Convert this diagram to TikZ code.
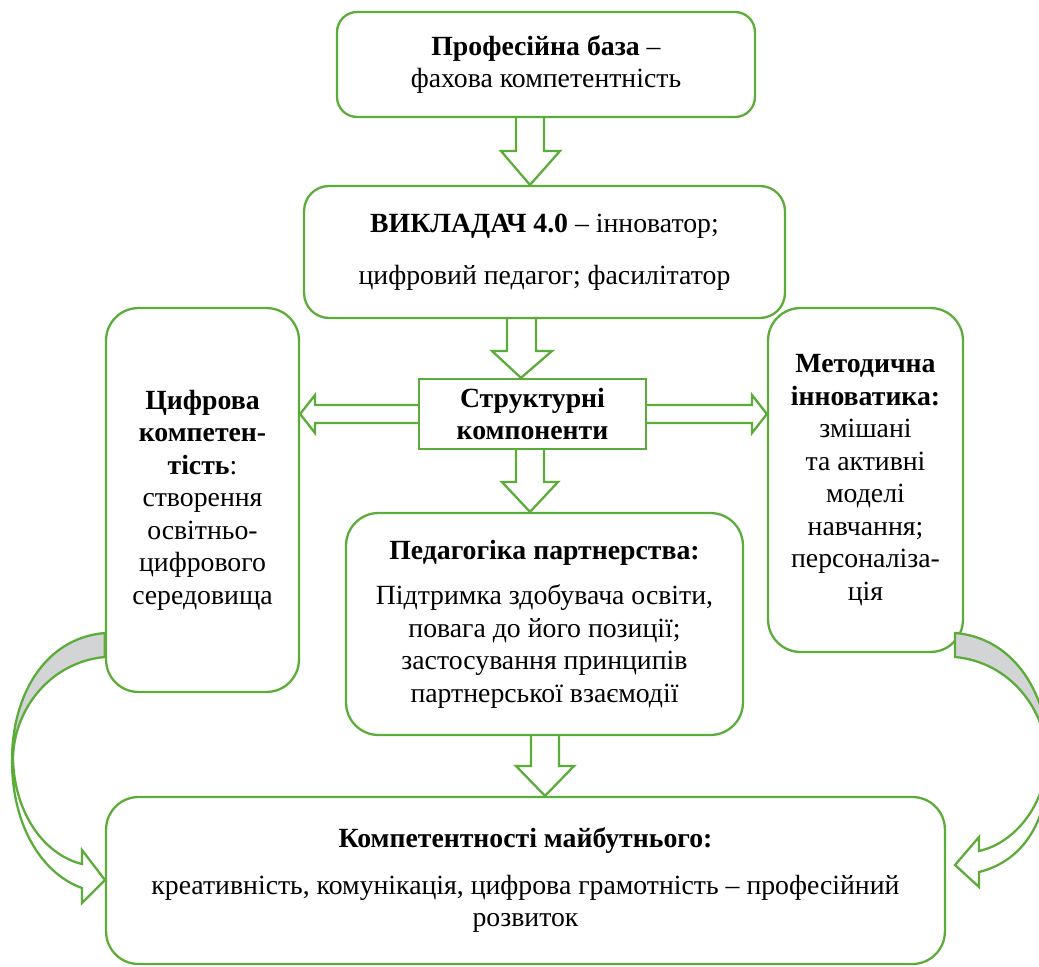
\documentclass[tikz,border=0pt]{standalone}
\usepackage{fontspec}
\setmainfont{Liberation Serif}
\definecolor{leafgreen}{RGB}{92,172,58}
\definecolor{bandgrey}{RGB}{211,212,214}
\begin{document}
\begin{tikzpicture}[x=0.02cm, y=-0.02cm,
    every node/.style={font=\fontsize{15.8}{18.5}\selectfont},
    rbox/.style={draw=leafgreen, line width=1.3pt, rounded corners=0.65cm, align=center, inner sep=0pt},
    sbox/.style={draw=leafgreen, line width=1.3pt, align=center, inner sep=0pt},
    blockarrow/.style={draw=leafgreen, line width=1.3pt, line join=miter},
    band/.style={draw=leafgreen, line width=1.3pt, fill=bandgrey}]
  \useasboundingbox (0,0) rectangle (1039,967);

  % boxes
  \node[rbox, rounded corners=0.4cm, minimum width=8.36cm, minimum height=2.1cm] (prof) at (546,64.5)
    {\textbf{Професійна база} –\\ фахова компетентність};
  \node[rbox, rounded corners=0.5cm, minimum width=9.62cm, minimum height=2.64cm] (teacher) at (544.5,252)
    {\textbf{ВИКЛАДАЧ 4.0} – інноватор;\\[0.4cm] цифровий педагог; фасилітатор};
  \node[sbox, minimum width=4.54cm, minimum height=1.4cm] (struct) at (532.5,414)
    {\textbf{Структурні}\\ \textbf{компоненти}};
  \node[rbox, minimum width=3.86cm, minimum height=7.68cm] (digital) at (202.5,500)
    {\textbf{Цифрова}\\ \textbf{компетен-}\\ \textbf{тість}:\\ створення\\ освітньо-\\ цифрового\\ середовища};
  \node[rbox, minimum width=3.9cm, minimum height=6.88cm] (method) at (865.5,480)
    {\textbf{Методична}\\ \textbf{інноватика:}\\ змішані\\ та активні\\ моделі\\ навчання;\\ персоналіза-\\ ція};
  \node[rbox, minimum width=7.94cm, minimum height=4.44cm] (partner) at (544.5,624)
    {\textbf{Педагогіка партнерства:}\\[0.26cm] Підтримка здобувача освіти,\\ повага до його позиції;\\ застосування принципів\\ партнерської взаємодії};
  \node[rbox, minimum width=16.78cm, minimum height=3.34cm] (future) at (525.5,880.5)
    {\textbf{Компетентності майбутнього:}\\[0.28cm] креативність, комунікація, цифрова грамотність – професійний\\ розвиток};

  % block arrows
  \draw[blockarrow] (516,0 |- prof.south) -- (516,151) -- (501,151) -- (530,0 |- teacher.north)
    -- (560,151) -- (544,151) -- (544,0 |- prof.south);
  \draw[blockarrow] (507,0 |- teacher.south) -- (507,351) -- (492,351) -- (521,0 |- struct.north)
    -- (552,351) -- (536,351) -- (536,0 |- teacher.south);
  \draw[blockarrow] (516,0 |- struct.south) -- (516,482) -- (502,482) -- (530,0 |- partner.north)
    -- (558,482) -- (544,482) -- (544,0 |- struct.south);
  \draw[blockarrow] (531,0 |- partner.south) -- (531,766) -- (516,766) -- (545,0 |- future.north)
    -- (574,766) -- (559,766) -- (559,0 |- partner.south);
  \draw[blockarrow] (struct.west |- 0,405) -- (315,405) -- (315,395) -- (digital.east |- 0,414)
    -- (315,433) -- (315,423) -- (struct.west |- 0,423);
  \draw[blockarrow] (struct.east |- 0,405) -- (752,405) -- (752,395) -- (method.west |- 0,414)
    -- (752,433) -- (752,423) -- (struct.east |- 0,423);

  % curved arrows
  \draw[band] (digital.west |- 0,633) .. controls (45,638) and (12,695) .. (12,760)
    -- (13,760) .. controls (13,710) and (50,662) .. (digital.west |- 0,657) -- cycle;
  \draw[blockarrow] (12,760) .. controls (12,830) and (45,875) .. (82,888) -- (82,903)
    -- (future.west |- 0,880) -- (82,850) -- (82,864) .. controls (45,855) and (15,815) .. (13,760);
  \draw[band] (955,633) .. controls (1015,638) and (1049,695) .. (1049,760)
    -- (1047,760) .. controls (1047,710) and (1010,662) .. (955,657) -- cycle;
  \draw[blockarrow] (1049,760) .. controls (1049,825) and (1020,862) .. (979,872) -- (979,887)
    -- (955,865) -- (979,837) -- (979,851) .. controls (1015,843) and (1045,805) .. (1047,760);
\end{tikzpicture}
\end{document}
